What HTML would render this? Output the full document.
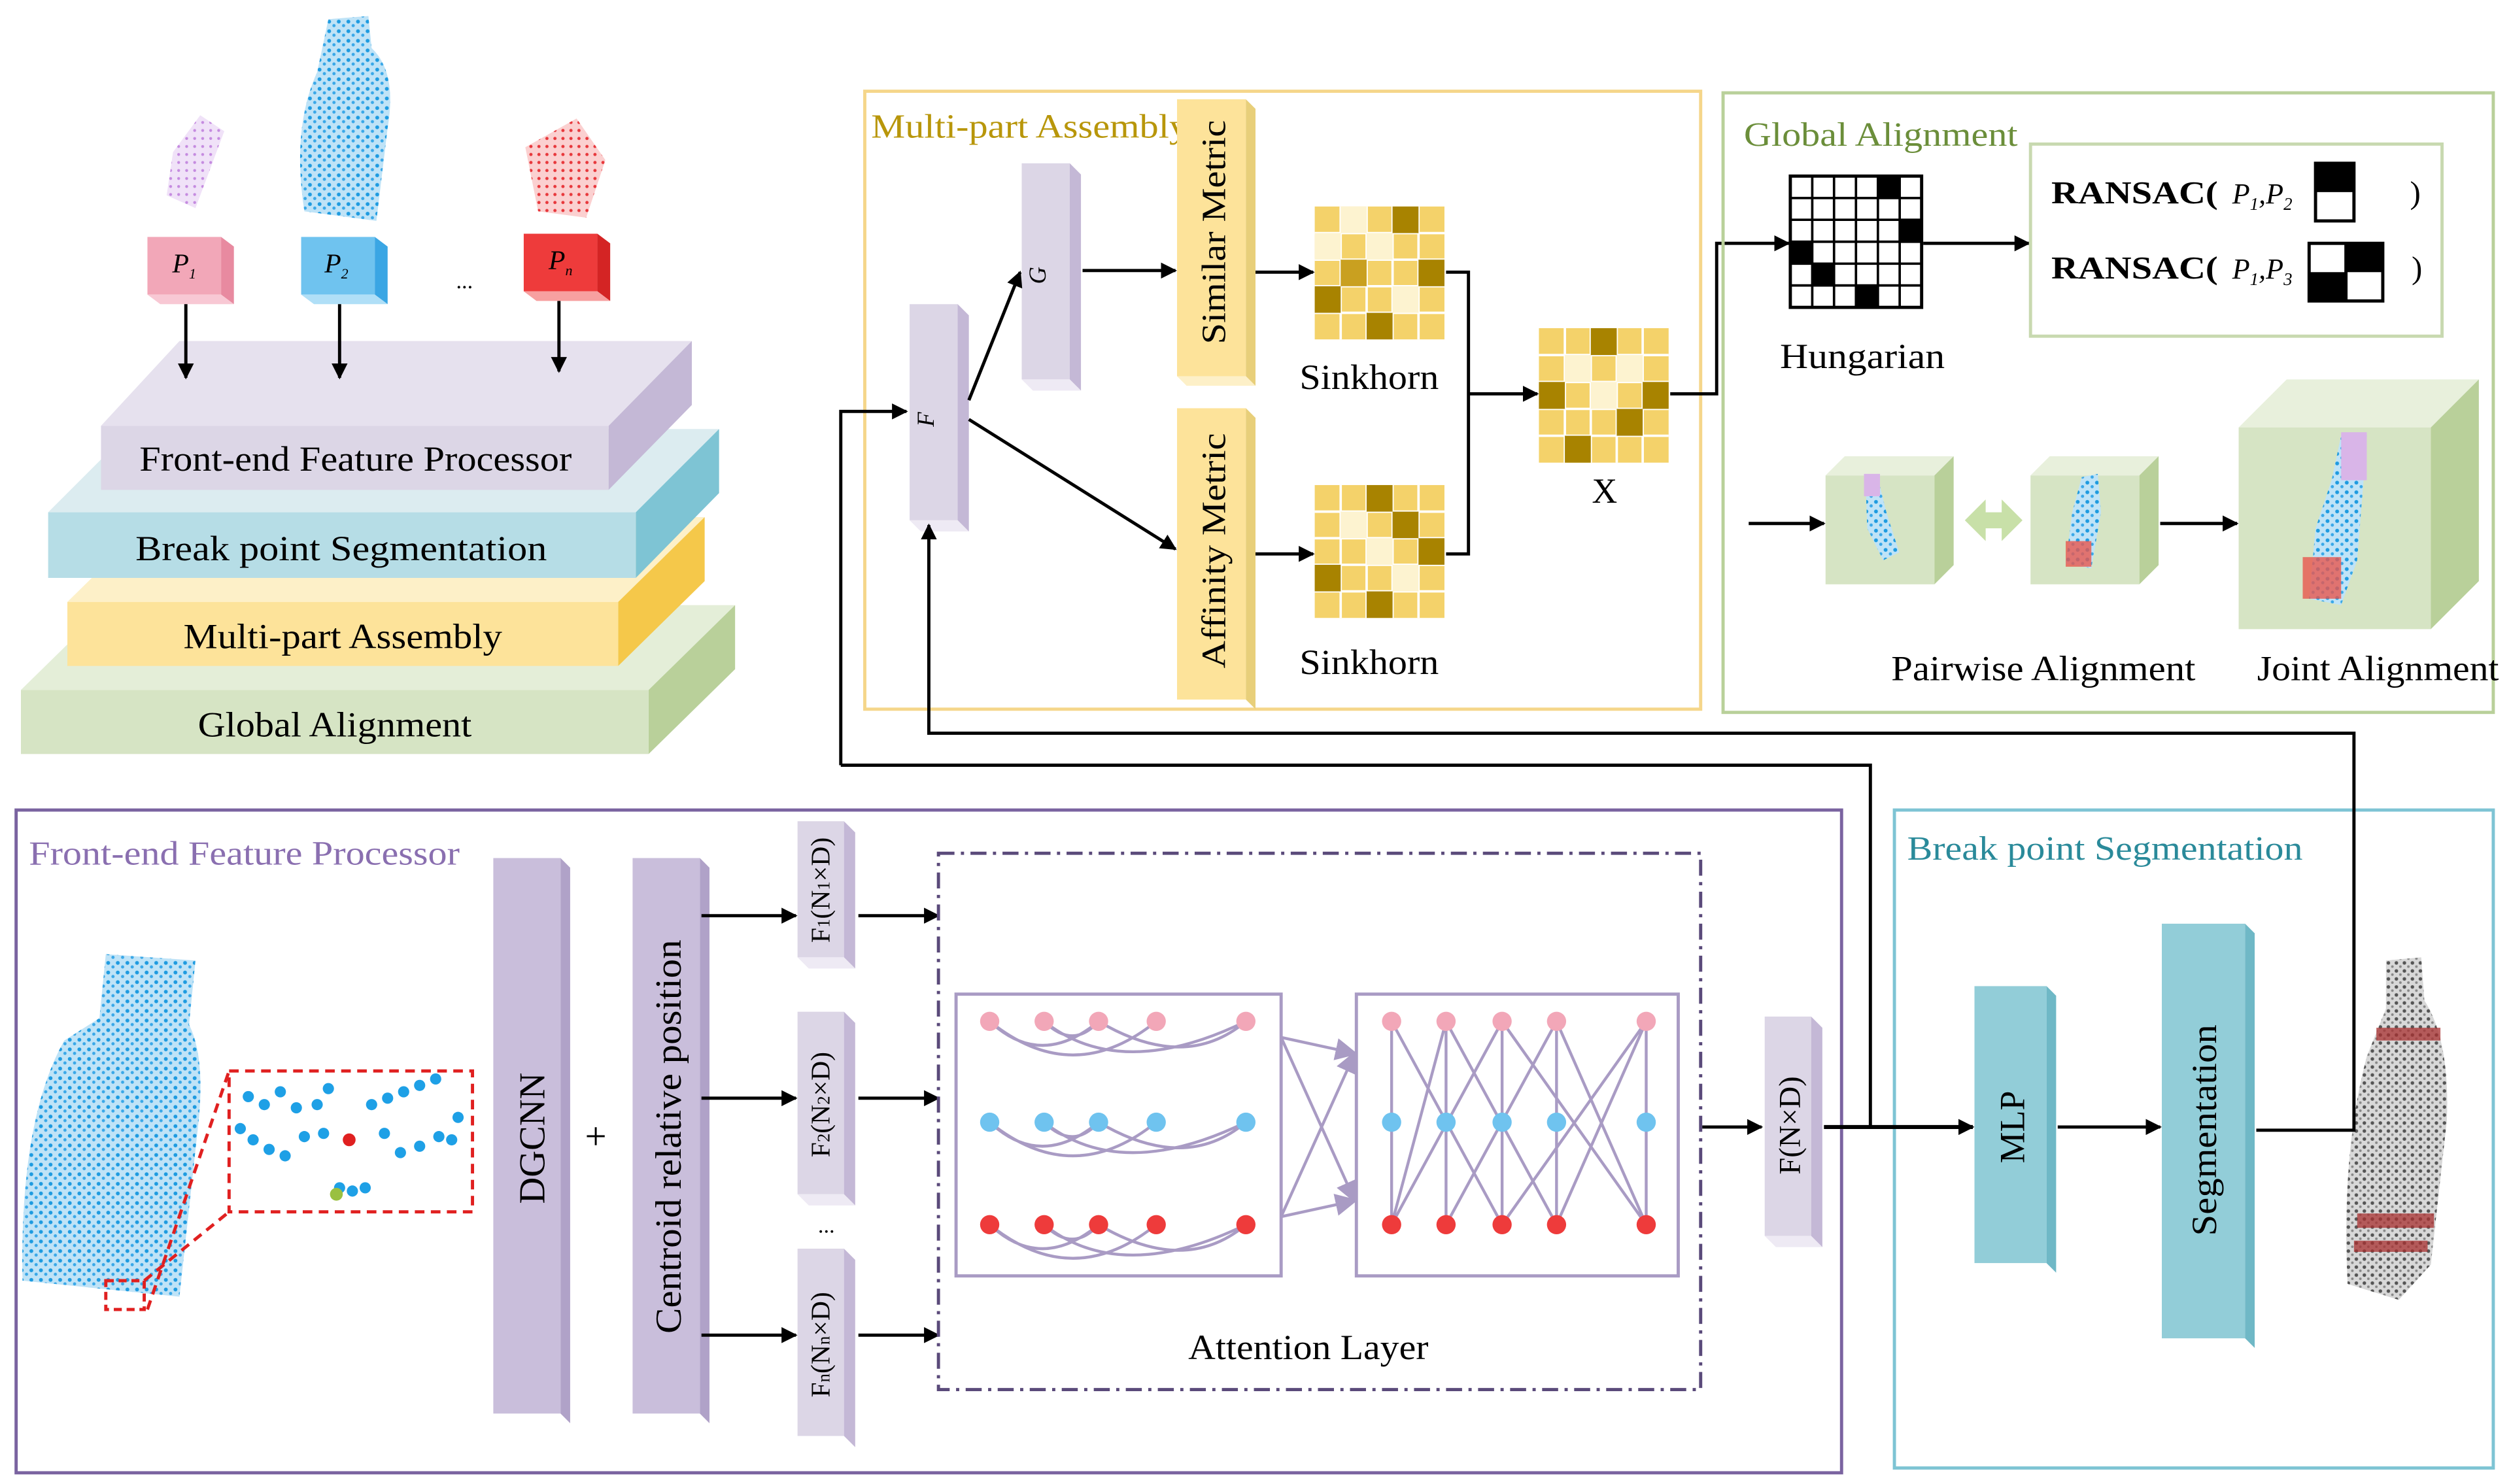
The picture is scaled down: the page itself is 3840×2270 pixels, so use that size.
<!DOCTYPE html>
<html><head><meta charset="utf-8"><style>
html,body{margin:0;padding:0;background:#fff;}
svg{display:block;}
text{font-family:"Liberation Serif",serif;}
</style></head><body>
<svg width="3840" height="2270" viewBox="0 0 1568 927" xmlns="http://www.w3.org/2000/svg">
<defs>
<marker id="ar" markerWidth="10" markerHeight="10" refX="9" refY="5" orient="auto" markerUnits="userSpaceOnUse"><path d="M0,0 L10,5 L0,10 z" fill="#000"/></marker>
<marker id="arp" markerWidth="14" markerHeight="14" refX="12" refY="7" orient="auto" markerUnits="userSpaceOnUse"><path d="M0,0 L14,7 L0,14 z" fill="#a99bc4"/></marker>
<pattern id="pb" width="6" height="6" patternUnits="userSpaceOnUse"><rect width="6" height="6" fill="#bfe3f7"/><circle cx="1.5" cy="1.5" r="1.2" fill="#1e9be0"/><circle cx="4.5" cy="4" r="1" fill="#3aa8e8"/></pattern>
<pattern id="pr" width="5" height="5" patternUnits="userSpaceOnUse"><rect width="5" height="5" fill="#fbd0d0"/><circle cx="1.5" cy="1.5" r="1" fill="#e8383c"/></pattern>
<pattern id="pp" width="5" height="5" patternUnits="userSpaceOnUse"><rect width="5" height="5" fill="#f0e2f8"/><circle cx="1.5" cy="1.5" r="0.9" fill="#c58be0"/></pattern>
<pattern id="pg" width="5" height="5" patternUnits="userSpaceOnUse"><rect width="5" height="5" fill="#d8d8d8"/><circle cx="1.5" cy="1.5" r="1.1" fill="#555"/><circle cx="4" cy="3.8" r="0.8" fill="#888"/></pattern>
</defs>

<!-- ===== top-left stack ===== -->
<polygon points="108,95 125,72 140,82 122,130 104,122" fill="url(#pp)"/>
<path d="M205,12 L230,10 L232,30 Q248,45 242,80 L235,138 L190,132 Q182,80 198,45 Z" fill="url(#pb)"/>
<polygon points="328,92 360,74 378,100 366,136 336,132" fill="url(#pr)"/>
<g>
<rect x="92" y="148" width="46" height="36" fill="#f2a7b8"/><polygon points="138,148 146,154 146,190 138,184" fill="#e88aa0"/><polygon points="92,184 138,184 146,190 100,190" fill="#f8c8d4"/>
<text x="115" y="170" font-size="17" font-style="italic" text-anchor="middle">P<tspan font-size="9" dy="4">1</tspan></text>
<rect x="188" y="148" width="46" height="36" fill="#6fc3ef"/><polygon points="234,148 242,154 242,190 234,184" fill="#3aa6e4"/><polygon points="188,184 234,184 242,190 196,190" fill="#b0dff7"/>
<text x="210" y="170" font-size="17" font-style="italic" text-anchor="middle">P<tspan font-size="9" dy="4">2</tspan></text>
<text x="290" y="180" font-size="14" text-anchor="middle">...</text>
<rect x="327" y="146" width="46" height="36" fill="#ee3b3b"/><polygon points="373,146 381,152 381,188 373,182" fill="#d42424"/><polygon points="327,182 373,182 381,188 335,188" fill="#f7a0a0"/>
<text x="350" y="168" font-size="17" font-style="italic" text-anchor="middle">P<tspan font-size="9" dy="4">n</tspan></text>
</g>
<polygon points="13,431 67,378 459,378 405,431" fill="#e4eed8"/><polygon points="405,431 459,378 459,418 405,471" fill="#b9d09a"/><rect x="13" y="431" width="392" height="40" fill="#d6e4c4"/>
<text x="209" y="460" font-size="22" text-anchor="middle" textLength="171" lengthAdjust="spacingAndGlyphs">Global Alignment</text>
<polygon points="42,376 96,323 440,323 386,376" fill="#fdf0c8"/><polygon points="386,376 440,323 440,363 386,416" fill="#f5c84a"/><rect x="42" y="376" width="344" height="40" fill="#fde39a"/>
<text x="214" y="405" font-size="22" text-anchor="middle" textLength="199" lengthAdjust="spacingAndGlyphs">Multi-part Assembly</text>
<polygon points="30,320 82,268 449,268 397,320" fill="#dcecf0"/><polygon points="397,320 449,268 449,308 397,361" fill="#7ec4d4"/><rect x="30" y="320" width="367" height="41" fill="#b6dde6"/>
<text x="213" y="350" font-size="22" text-anchor="middle" textLength="257" lengthAdjust="spacingAndGlyphs">Break  point  Segmentation</text>
<polygon points="63,266 112,213 432,213 380,266" fill="#e6e1ee"/><polygon points="380,266 432,213 432,253 380,306" fill="#c4b8d6"/><rect x="63" y="266" width="317" height="40" fill="#dcd6e6"/>
<text x="222" y="294" font-size="22" text-anchor="middle" textLength="270" lengthAdjust="spacingAndGlyphs">Front-end Feature Processor</text>
<g stroke="#000" stroke-width="2" marker-end="url(#ar)">
<line x1="116" y1="190" x2="116" y2="236"/><line x1="212" y1="190" x2="212" y2="236"/><line x1="349" y1="188" x2="349" y2="232"/>
</g>

<!-- ===== Multi-part Assembly ===== -->
<rect x="540" y="57" width="522" height="386" fill="none" stroke="#f5d68a" stroke-width="2"/>
<text x="544" y="86" font-size="21" fill="#b8960a" textLength="198" lengthAdjust="spacingAndGlyphs">Multi-part Assembly</text>
<rect x="568" y="190" width="30" height="135" fill="#dcd6e6"/><polygon points="598,190 605,197 605,332 598,325" fill="#c4b8d6"/><polygon points="568,325 598,325 605,332 575,332" fill="#eeeaf4"/>
<text x="583" y="262" font-size="15" font-style="italic" text-anchor="middle" transform="rotate(-90 583 262)">F</text>
<rect x="638" y="102" width="30" height="135" fill="#dcd6e6"/><polygon points="668,102 675,109 675,244 668,237" fill="#c4b8d6"/><polygon points="638,237 668,237 675,244 645,244" fill="#eeeaf4"/>
<text x="653" y="172" font-size="15" font-style="italic" text-anchor="middle" transform="rotate(-90 653 172)">G</text>
<rect x="735" y="62" width="43" height="173" fill="#fde39a"/><polygon points="778,62 784,68 784,241 778,235" fill="#e8cf7a"/><polygon points="735,235 778,235 784,241 741,241" fill="#fdf0c8"/>
<text x="765" y="145" font-size="21" text-anchor="middle" transform="rotate(-90 765 145)" textLength="140" lengthAdjust="spacingAndGlyphs">Similar Metric</text>
<rect x="735" y="255" width="43" height="182" fill="#fde39a"/><polygon points="778,255 784,261 784,443 778,437" fill="#e8cf7a"/>
<text x="765" y="344" font-size="21" text-anchor="middle" transform="rotate(-90 765 344)" textLength="147" lengthAdjust="spacingAndGlyphs">Affinity Metric</text>
<g stroke="#000" stroke-width="2" fill="none">
<line x1="605" y1="250" x2="637" y2="170" marker-end="url(#ar)"/>
<line x1="605" y1="262" x2="734" y2="343" marker-end="url(#ar)"/>
<line x1="676" y1="169" x2="734" y2="169" marker-end="url(#ar)"/>
<line x1="784" y1="170" x2="820" y2="170" marker-end="url(#ar)"/>
<line x1="784" y1="346" x2="820" y2="346" marker-end="url(#ar)"/>
<polyline points="903,170 917,170 917,346 903,346"/>
<line x1="917" y1="246" x2="960" y2="246" marker-end="url(#ar)"/>
<polyline points="1043,246 1072,246 1072,152 1117,152" marker-end="url(#ar)"/>
<polyline points="525,478 525,257 566,257" marker-end="url(#ar)"/>
</g>
<rect x="821" y="129" width="81" height="83" fill="#f4d26a"/>
<g stroke="#fff" stroke-width="1.5"><path d="M821,145.6H902M821,162.2H902M821,178.8H902M821,195.4H902M837.2,129V212M853.4,129V212M869.6,129V212M885.8,129V212"/></g>
<g fill="#a88300"><rect x="869.6" y="129" width="16.2" height="16.6"/><rect x="885.8" y="162.2" width="16.2" height="16.6"/><rect x="821" y="178.8" width="16.2" height="16.6"/><rect x="853.4" y="195.4" width="16.2" height="16.6"/><rect x="837.2" y="162.2" width="16.2" height="16.6" fill="#c9a020"/></g>
<g fill="#fdf3d0"><rect x="837.2" y="129" width="16.2" height="16.6"/><rect x="853.4" y="145.6" width="16.2" height="16.6"/><rect x="869.6" y="178.8" width="16.2" height="16.6"/><rect x="821" y="145.6" width="16.2" height="16.6"/></g>

<rect x="821" y="303" width="81" height="83" fill="#f4d26a"/>
<g stroke="#fff" stroke-width="1.5"><path d="M821,319.6H902M821,336.2H902M821,352.8H902M821,369.4H902M837.2,303V386M853.4,303V386M869.6,303V386M885.8,303V386"/></g>
<g fill="#a88300"><rect x="853.4" y="303" width="16.2" height="16.6"/><rect x="869.6" y="319.6" width="16.2" height="16.6"/><rect x="885.8" y="336.2" width="16.2" height="16.6"/><rect x="821" y="352.8" width="16.2" height="16.6"/><rect x="853.4" y="369.4" width="16.2" height="16.6"/></g>
<g fill="#fdf3d0"><rect x="837.2" y="319.6" width="16.2" height="16.6"/><rect x="853.4" y="336.2" width="16.2" height="16.6"/><rect x="869.6" y="352.8" width="16.2" height="16.6"/></g>

<rect x="961" y="205" width="81" height="84" fill="#f4d26a"/>
<g stroke="#fff" stroke-width="1.5"><path d="M961,221.8H1042M961,238.6H1042M961,255.4H1042M961,272.2H1042M977.2,205V289M993.4,205V289M1009.6,205V289M1025.8,205V289"/></g>
<g fill="#a88300"><rect x="993.4" y="205" width="16.2" height="16.8"/><rect x="1025.8" y="238.6" width="16.2" height="16.8"/><rect x="961" y="238.6" width="16.2" height="16.8"/><rect x="1009.6" y="255.4" width="16.2" height="16.8"/><rect x="977.2" y="272.2" width="16.2" height="16.8"/></g>
<g fill="#fdf3d0"><rect x="977.2" y="221.8" width="16.2" height="16.8"/><rect x="1009.6" y="221.8" width="16.2" height="16.8"/><rect x="993.4" y="238.6" width="16.2" height="16.8"/></g>
<text x="855" y="243" font-size="22" text-anchor="middle" textLength="87" lengthAdjust="spacingAndGlyphs">Sinkhorn</text>
<text x="855" y="421" font-size="22" text-anchor="middle" textLength="87" lengthAdjust="spacingAndGlyphs">Sinkhorn</text>
<text x="1002" y="314" font-size="22" text-anchor="middle">X</text>

<!-- ===== Global Alignment ===== -->
<rect x="1076" y="58" width="481" height="387" fill="none" stroke="#b9d09a" stroke-width="2"/>
<text x="1089" y="91" font-size="21" fill="#6b8e3a" textLength="171" lengthAdjust="spacingAndGlyphs">Global Alignment</text>
<rect x="1118" y="110" width="82" height="82" fill="#fff" stroke="#000" stroke-width="2"/>
<g stroke="#000" stroke-width="1.5"><path d="M1118,123.7H1200M1118,137.3H1200M1118,151H1200M1118,164.7H1200M1118,178.3H1200M1131.7,110V192M1145.3,110V192M1159,110V192M1172.7,110V192M1186.3,110V192"/></g>
<g fill="#000"><rect x="1172.7" y="110" width="13.7" height="13.7"/><rect x="1186.3" y="137.3" width="13.7" height="13.7"/><rect x="1118" y="151" width="13.7" height="13.7"/><rect x="1131.7" y="164.7" width="13.7" height="13.7"/><rect x="1159" y="178.3" width="13.7" height="13.7"/></g>
<text x="1163" y="230" font-size="22" text-anchor="middle" textLength="103" lengthAdjust="spacingAndGlyphs">Hungarian</text>
<line x1="1201" y1="152" x2="1267" y2="152" stroke="#000" stroke-width="2" marker-end="url(#ar)"/>
<rect x="1268" y="90" width="257" height="120" fill="#fff" stroke="#c8d9b0" stroke-width="2"/>
<text x="1281" y="127" font-size="20" font-weight="bold" textLength="104" lengthAdjust="spacingAndGlyphs">RANSAC(</text>
<text x="1394" y="127" font-size="18" font-style="italic">P<tspan font-size="11" dy="4">1</tspan><tspan dy="-4">,P</tspan><tspan font-size="11" dy="4">2</tspan></text>
<rect x="1446" y="102" width="24" height="36" fill="#fff" stroke="#000" stroke-width="2"/><rect x="1446" y="102" width="24" height="18" fill="#000"/>
<text x="1505" y="127" font-size="20">)</text>
<text x="1281" y="174" font-size="20" font-weight="bold" textLength="104" lengthAdjust="spacingAndGlyphs">RANSAC(</text>
<text x="1394" y="174" font-size="18" font-style="italic">P<tspan font-size="11" dy="4">1</tspan><tspan dy="-4">,P</tspan><tspan font-size="11" dy="4">3</tspan></text>
<rect x="1442" y="152" width="46" height="36" fill="#fff" stroke="#000" stroke-width="2"/><line x1="1465" y1="152" x2="1465" y2="188" stroke="#000" stroke-width="2"/><rect x="1465" y="152" width="23" height="18" fill="#000"/><rect x="1442" y="170" width="23" height="18" fill="#000"/>
<text x="1506" y="174" font-size="20">)</text>
<polygon points="1140,297 1152,285 1220,285 1208,297" fill="#e8f0dc"/><rect x="1140" y="297" width="68" height="68" fill="#d6e4c4"/><polygon points="1208,297 1220,285 1220,353 1208,365" fill="#b9d09a"/>
<path d="M1165,300 L1172,296 L1178,320 L1186,345 L1176,350 L1166,330 Z" fill="url(#pb)"/><rect x="1164" y="296" width="10" height="14" fill="#d9b5e8"/>
<polygon points="1268,297 1280,285 1348,285 1336,297" fill="#e8f0dc"/><rect x="1268" y="297" width="68" height="68" fill="#d6e4c4"/><polygon points="1336,297 1348,285 1348,353 1336,365" fill="#b9d09a"/>
<path d="M1300,298 L1310,296 L1312,320 L1306,355 L1290,352 L1294,320 Z" fill="url(#pb)"/><rect x="1290" y="338" width="16" height="16" fill="#e8564e" opacity="0.8"/>
<polygon points="1227,325 1240,312 1240,320 1250,320 1250,312 1263,325 1250,338 1250,330 1240,330 1240,338" fill="#c8e0a8"/>
<polygon points="1398,267 1428,237 1548,237 1518,267" fill="#e8f0dc"/><rect x="1398" y="267" width="120" height="126" fill="#d6e4c4"/><polygon points="1518,267 1548,237 1548,363 1518,393" fill="#b9d09a"/>
<path d="M1462,272 L1478,272 L1476,300 L1472,350 L1462,378 L1442,374 L1446,330 L1456,300 Z" fill="url(#pb)"/><rect x="1462" y="270" width="16" height="30" fill="#d9b5e8"/><rect x="1438" y="348" width="24" height="26" fill="#e8564e" opacity="0.8"/>
<g stroke="#000" stroke-width="2" marker-end="url(#ar)"><line x1="1092" y1="327" x2="1139" y2="327"/><line x1="1349" y1="327" x2="1397" y2="327"/></g>
<text x="1276" y="425" font-size="22" text-anchor="middle" textLength="190" lengthAdjust="spacingAndGlyphs">Pairwise Alignment</text>
<text x="1485" y="425" font-size="22" text-anchor="middle" textLength="151" lengthAdjust="spacingAndGlyphs">Joint Alignment</text>

<!-- ===== Front-end Feature Processor ===== -->
<rect x="10" y="506" width="1140" height="414" fill="none" stroke="#7a63a0" stroke-width="2"/>
<text x="18" y="540" font-size="21" fill="#8a6fb0" textLength="269" lengthAdjust="spacingAndGlyphs">Front-end Feature Processor</text>
<path d="M66,596 L122,600 L118,640 Q128,660 124,700 L112,810 L14,800 Q12,700 40,650 L62,636 Z" fill="url(#pb)"/>
<rect x="66" y="800" width="24" height="18" fill="none" stroke="#e02020" stroke-width="2" stroke-dasharray="5,3"/>
<rect x="143" y="669" width="152" height="88" fill="#fff" stroke="#e02020" stroke-width="2" stroke-dasharray="6,4"/>
<g stroke="#e02020" stroke-width="2" stroke-dasharray="6,4"><line x1="90" y1="800" x2="143" y2="757"/><line x1="92" y1="818" x2="143" y2="669"/></g>
<g fill="#1ea0e6">
<circle cx="155" cy="685" r="3.5"/><circle cx="165" cy="690" r="3.5"/><circle cx="175" cy="682" r="3.5"/><circle cx="185" cy="692" r="3.5"/><circle cx="198" cy="690" r="3.5"/><circle cx="205" cy="680" r="3.5"/><circle cx="232" cy="690" r="3.5"/><circle cx="242" cy="686" r="3.5"/><circle cx="252" cy="682" r="3.5"/><circle cx="262" cy="678" r="3.5"/><circle cx="272" cy="674" r="3.5"/><circle cx="150" cy="705" r="3.5"/><circle cx="158" cy="712" r="3.5"/><circle cx="168" cy="718" r="3.5"/><circle cx="178" cy="722" r="3.5"/><circle cx="190" cy="710" r="3.5"/><circle cx="202" cy="708" r="3.5"/><circle cx="240" cy="708" r="3.5"/><circle cx="250" cy="720" r="3.5"/><circle cx="262" cy="716" r="3.5"/><circle cx="274" cy="710" r="3.5"/><circle cx="286" cy="698" r="3.5"/><circle cx="282" cy="712" r="3.5"/><circle cx="212" cy="742" r="3.5"/><circle cx="220" cy="744" r="3.5"/><circle cx="228" cy="742" r="3.5"/>
</g>
<circle cx="218" cy="712" r="4" fill="#e02020"/><circle cx="210" cy="746" r="4" fill="#9ac040"/>
<rect x="308" y="536" width="42" height="347" fill="#c9bedb"/><polygon points="350,536 356,542 356,889 350,883" fill="#b0a2c8"/>
<text x="340" y="711" font-size="23" text-anchor="middle" transform="rotate(-90 340 711)" textLength="82" lengthAdjust="spacingAndGlyphs">DGCNN</text>
<text x="372" y="718" font-size="24" text-anchor="middle">+</text>
<rect x="395" y="536" width="42" height="347" fill="#c9bedb"/><polygon points="437,536 443,542 443,889 437,883" fill="#b0a2c8"/>
<text x="425" y="710" font-size="23" text-anchor="middle" transform="rotate(-90 425 710)" textLength="246" lengthAdjust="spacingAndGlyphs">Centroid relative position</text>
<g>
<rect x="498" y="513" width="29" height="85" fill="#dcd6e6"/><polygon points="527,513 534,520 534,605 527,598" fill="#c4b8d6"/><polygon points="498,598 527,598 534,605 505,605" fill="#eeeaf4"/>
<text x="518" y="556" font-size="17" text-anchor="middle" transform="rotate(-90 518 556)">F<tspan font-size="11">1</tspan>(N<tspan font-size="11">1</tspan>×D)</text>
<rect x="498" y="632" width="29" height="114" fill="#dcd6e6"/><polygon points="527,632 534,639 534,753 527,746" fill="#c4b8d6"/><polygon points="498,746 527,746 534,753 505,753" fill="#eeeaf4"/>
<text x="518" y="690" font-size="17" text-anchor="middle" transform="rotate(-90 518 690)">F<tspan font-size="11">2</tspan>(N<tspan font-size="11">2</tspan>×D)</text>
<text x="516" y="770" font-size="14" text-anchor="middle">...</text>
<rect x="498" y="780" width="29" height="117" fill="#dcd6e6"/><polygon points="527,780 534,787 534,904 527,897" fill="#c4b8d6"/>
<text x="518" y="840" font-size="17" text-anchor="middle" transform="rotate(-90 518 840)">F<tspan font-size="11">n</tspan>(N<tspan font-size="11">n</tspan>×D)</text>
</g>
<g stroke="#000" stroke-width="2" marker-end="url(#ar)">
<line x1="438" y1="572" x2="497" y2="572"/><line x1="438" y1="686" x2="497" y2="686"/><line x1="438" y1="834" x2="497" y2="834"/>
<line x1="536" y1="572" x2="586" y2="572"/><line x1="536" y1="686" x2="586" y2="686"/><line x1="536" y1="834" x2="586" y2="834"/>
</g>
<rect x="586" y="533" width="476" height="335" fill="none" stroke="#5a4a7a" stroke-width="2" stroke-dasharray="10,4,2,4"/>
<rect x="597" y="621" width="203" height="176" fill="#fff" stroke="#a99bc4" stroke-width="2"/>
<rect x="847" y="621" width="201" height="176" fill="#fff" stroke="#a99bc4" stroke-width="2"/>
<g fill="none" stroke="#a99bc4" stroke-width="1.8">
<path d="M618,638 Q650,668 686,638 M618,638 Q670,680 722,638 M652,638 Q700,676 778,638 M652,638 Q670,656 686,638 M686,638 Q740,670 778,638"/>
<path d="M618,701 Q650,731 686,701 M618,701 Q670,743 722,701 M652,701 Q700,739 778,701 M652,701 Q670,719 686,701 M686,701 Q740,733 778,701"/>
<path d="M618,765 Q650,795 686,765 M618,765 Q670,807 722,765 M652,765 Q700,803 778,765 M652,765 Q670,783 686,765 M686,765 Q740,797 778,765"/>
<path d="M869,638 L869,765 M903,638 L903,765 M938,638 L938,765 M972,638 L972,765 M869,638 L938,765 M903,638 L869,765 M938,638 L869,765 M903,638 L972,765 M972,638 L903,765 M938,638 L1028,765 M1028,638 L938,765 M972,638 L1028,765 M1028,638 L972,765 M1028,638 L1028,765"/>
</g>
<g fill="none" stroke="#a99bc4" stroke-width="1.8" marker-end="url(#arp)">
<line x1="800" y1="648" x2="846" y2="658"/><line x1="800" y1="760" x2="846" y2="750"/><line x1="800" y1="648" x2="846" y2="750"/><line x1="800" y1="760" x2="846" y2="658"/>
</g>
<g fill="#f2a7b8"><circle cx="618" cy="638" r="6"/><circle cx="652" cy="638" r="6"/><circle cx="686" cy="638" r="6"/><circle cx="722" cy="638" r="6"/><circle cx="778" cy="638" r="6"/><circle cx="869" cy="638" r="6"/><circle cx="903" cy="638" r="6"/><circle cx="938" cy="638" r="6"/><circle cx="972" cy="638" r="6"/><circle cx="1028" cy="638" r="6"/></g>
<g fill="#6fc3ef"><circle cx="618" cy="701" r="6"/><circle cx="652" cy="701" r="6"/><circle cx="686" cy="701" r="6"/><circle cx="722" cy="701" r="6"/><circle cx="778" cy="701" r="6"/><circle cx="869" cy="701" r="6"/><circle cx="903" cy="701" r="6"/><circle cx="938" cy="701" r="6"/><circle cx="972" cy="701" r="6"/><circle cx="1028" cy="701" r="6"/></g>
<g fill="#ee3b3b"><circle cx="618" cy="765" r="6"/><circle cx="652" cy="765" r="6"/><circle cx="686" cy="765" r="6"/><circle cx="722" cy="765" r="6"/><circle cx="778" cy="765" r="6"/><circle cx="869" cy="765" r="6"/><circle cx="903" cy="765" r="6"/><circle cx="938" cy="765" r="6"/><circle cx="972" cy="765" r="6"/><circle cx="1028" cy="765" r="6"/></g>
<text x="817" y="849" font-size="22" text-anchor="middle" textLength="150" lengthAdjust="spacingAndGlyphs">Attention Layer</text>
<line x1="1063" y1="704" x2="1100" y2="704" stroke="#000" stroke-width="2" marker-end="url(#ar)"/>
<rect x="1102" y="635" width="29" height="137" fill="#dcd6e6"/><polygon points="1131,635 1138,642 1138,779 1131,772" fill="#c4b8d6"/><polygon points="1102,772 1131,772 1138,779 1109,779" fill="#eeeaf4"/>
<text x="1124" y="703" font-size="19" text-anchor="middle" transform="rotate(-90 1124 703)">F(N×D)</text>

<!-- ===== Break point Segmentation ===== -->
<rect x="1183" y="506" width="374" height="411" fill="none" stroke="#7ec4d4" stroke-width="2"/>
<text x="1191" y="537" font-size="21" fill="#2a8a9a" textLength="247" lengthAdjust="spacingAndGlyphs">Break point Segmentation</text>
<rect x="1233" y="616" width="45" height="173" fill="#92cdd8"/><polygon points="1278,616 1284,622 1284,795 1278,789" fill="#6fb8c6"/>
<text x="1264" y="704" font-size="22" text-anchor="middle" transform="rotate(-90 1264 704)">MLP</text>
<rect x="1350" y="577" width="52" height="259" fill="#92cdd8"/><polygon points="1402,577 1408,583 1408,842 1402,836" fill="#6fb8c6"/>
<text x="1384" y="706" font-size="22" text-anchor="middle" transform="rotate(-90 1384 706)" textLength="132" lengthAdjust="spacingAndGlyphs">Segmentation</text>
<path d="M1490,600 L1512,598 L1514,625 Q1530,650 1528,700 L1518,790 L1498,812 L1466,802 Q1462,720 1478,660 L1490,630 Z" fill="url(#pg)"/>
<g fill="#a83030" opacity="0.75"><rect x="1484" y="642" width="40" height="8"/><rect x="1472" y="758" width="48" height="9"/><rect x="1470" y="775" width="46" height="7"/></g>
<g stroke="#000" stroke-width="2" fill="none">
<line x1="1139" y1="704" x2="1232" y2="704" marker-end="url(#ar)" stroke-width="2.5"/>
<line x1="1285" y1="704" x2="1349" y2="704" marker-end="url(#ar)"/>
<polyline points="1168,704 1168,478 525,478"/>
<polyline points="1409,706 1470,706 1470,458 580,458 580,328" marker-end="url(#ar)"/>
</g>
</svg>
</body></html>
